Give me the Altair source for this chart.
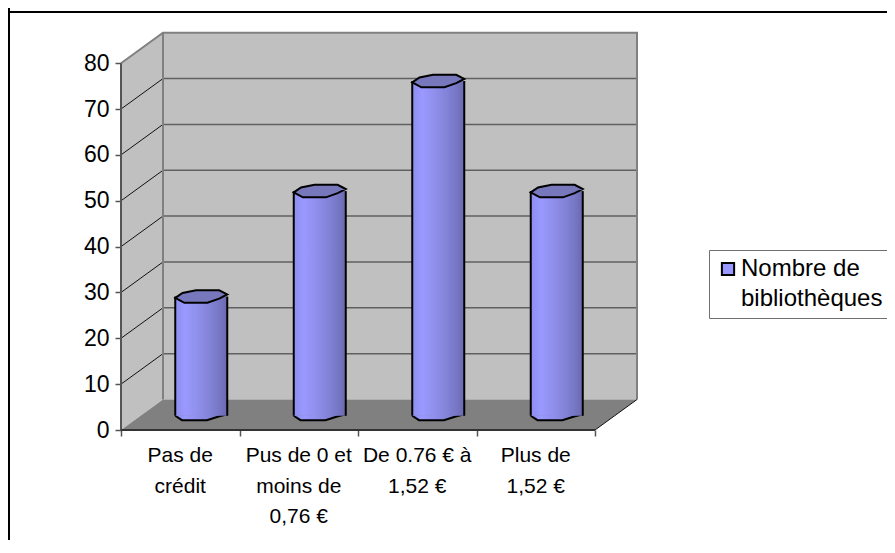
import altair as alt
import pandas as pd

categories = ["Pas de\ncrédit", "Pus de 0 et\nmoins de\n0,76 €", "De 0.76 € à\n1,52 €", "Plus de\n1,52 €"]
values = [26, 49, 73, 49]
y_ticks = [0, 10, 20, 30, 40, 50, 60, 70, 80]
x_ticks = [0, 1, 2, 3, 4]
series_name = "Nombre de\nbibliothèques"

# depth of the pseudo-3D box, in data units
DX = 0.3544
DY = 6.65
BAR_W = 0.4388
YMAX = 80
N = 4

FONT = "Liberation Sans"
XMIN, XMAX = -0.9536, 6.4641
YMIN, YTOP = -23.99, 92.04
xs = alt.Scale(domain=[XMIN, XMAX], nice=False, zero=False)
ys = alt.Scale(domain=[YMIN, YTOP], nice=False, zero=False)
x_axis = alt.Axis(values=x_ticks, labels=False, domain=False, grid=False, title=None, offset=-110,
                  tickSize=6, tickColor="#555555", tickWidth=1.5)
y_axis = alt.Axis(values=y_ticks, domain=False, grid=False, title=None, offset=-113,
                  tickSize=6, tickColor="#555555", tickWidth=1.5, labelFont=FONT,
                  labelFontSize=23, labelColor="black", labelPadding=6)


def X(f="x"):
    return alt.X(f"{f}:Q", scale=xs, axis=x_axis)


def Y(f="y"):
    return alt.Y(f"{f}:Q", scale=ys, axis=y_axis)


# frame (left + top only)
frame_left = alt.Chart(pd.DataFrame({"x": [-0.9452], "y": [YMIN], "y2": [YTOP]})).mark_rule(color="black", strokeWidth=2).encode(
    x=X(), y=Y(), y2="y2:Q")
frame_top = alt.Chart(pd.DataFrame({"x": [XMIN], "x2": [XMAX], "y": [91.17]})).mark_rule(color="black", strokeWidth=2).encode(
    x=X(), x2="x2:Q", y=Y())

# walls
side = pd.DataFrame({"x": [0, DX], "y": [0, DY], "y2": [YMAX, YMAX + DY]})
side_wall = alt.Chart(side).mark_area(color="#C0C0C0", opacity=1).encode(x=X(), y=Y(), y2="y2:Q")
back_wall = alt.Chart(pd.DataFrame({"x": [DX], "x2": [N + DX], "y": [DY], "y2": [YMAX + DY]})).mark_rect(color="#C0C0C0").encode(
    x=X(), x2="x2:Q", y=Y(), y2="y2:Q")
floor = pd.DataFrame({"y": [0, DY], "x": [0, DX], "x2": [N, N + DX]})
floor_area = alt.Chart(floor).mark_area(color="#808080", orient="horizontal", opacity=1).encode(y=Y(), x=X(), x2="x2:Q")

# grid
back_grid = alt.Chart(pd.DataFrame({"v": [v + DY for v in y_ticks[1:-1]], "x": DX, "x2": N + DX})).mark_rule(color="#606060", strokeWidth=1.5).encode(
    x=X(), x2="x2:Q", y=Y("v"))
rows = []
for v in y_ticks[1:-1]:
    rows += [{"id": v, "x": 0, "y": v}, {"id": v, "x": DX, "y": v + DY}]
side_grid = alt.Chart(pd.DataFrame(rows)).mark_line(color="#111111", strokeWidth=1).encode(x=X(), y=Y(), detail="id:N")

# gray edges of the walls
edge = pd.DataFrame([
    {"id": 1, "o": 0, "x": 0, "y": YMAX}, {"id": 1, "o": 1, "x": DX, "y": YMAX + DY},
    {"id": 1, "o": 2, "x": N + DX, "y": YMAX + DY}, {"id": 1, "o": 3, "x": N + DX, "y": DY},
    {"id": 2, "o": 0, "x": DX, "y": YMAX + DY}, {"id": 2, "o": 1, "x": DX, "y": DY},
])
edges = alt.Chart(edge).mark_line(color="#808080", strokeWidth=2).encode(x=X(), y=Y(), detail="id:N", order="o:Q")
diag = pd.DataFrame({"x": [N, N + DX], "y": [0, DY]})
floor_edge = alt.Chart(diag).mark_line(color="#111111", strokeWidth=1).encode(x=X(), y=Y())

# axis lines
axis_y = alt.Chart(pd.DataFrame({"x": [0], "y": [0], "y2": [YMAX]})).mark_rule(color="#555555", strokeWidth=2).encode(x=X(), y=Y(), y2="y2:Q")
axis_x = alt.Chart(pd.DataFrame({"x": [0], "x2": [N], "y": [0]})).mark_rule(color="#333333", strokeWidth=2).encode(x=X(), x2="x2:Q", y=Y())

# cylinders
bars = pd.DataFrame({
    "cat": categories,
    "val": values,
    "c": [i + 0.5 + DX / 2 for i in range(N)],
    "lab": [i + 0.5 for i in range(N)],
})
bars["l"] = bars.c - BAR_W / 2
bars["r"] = bars.c + BAR_W / 2
bars["base"] = DY / 2 - 0.22
bars["top"] = bars.val + bars.base
bars["zero"] = 0

grad = alt.Gradient(
    gradient="linear", x1=0, x2=1, y1=0, y2=0,
    stops=[
        alt.GradientStop(offset=0, color="#8E8EF0"),
        alt.GradientStop(offset=0.2, color="#9999FF"),
        alt.GradientStop(offset=0.5, color="#8C8CE6"),
        alt.GradientStop(offset=0.8, color="#7A7ACB"),
        alt.GradientStop(offset=1, color="#6A6AB0"),
    ])
TOP_SHAPE = "M-1 .05L-.72 -.14L-.2 -.24L.69 -.24L1 -.08L.69 .08L.24 .24L-.65 .24Z"
BOTTOM_SHAPE = "M-1 0L-.74 .17L.22 .17L.67 .03L1 -.06"
SIZE = 2704

cyl_bottom = alt.Chart(bars).mark_point(shape=BOTTOM_SHAPE, size=SIZE, fill=grad, stroke="black", strokeWidth=2, opacity=1).encode(
    x=X("c"), y=Y("base"))
cyl_body = alt.Chart(bars).mark_rect(fill=grad).encode(x=X("l"), x2="r:Q", y=Y("base"), y2="top:Q")
cyl_left = alt.Chart(bars).mark_rule(color="black", strokeWidth=2).encode(x=X("l"), y=Y("base"), y2="top:Q")
cyl_right = alt.Chart(bars).mark_rule(color="black", strokeWidth=2).encode(x=X("r"), y=Y("base"), y2="top:Q")
cyl_top = alt.Chart(bars).mark_point(shape=TOP_SHAPE, size=SIZE, fill="#7777BB", stroke="black", strokeWidth=2, opacity=1).encode(
    x=X("c"), y=Y("top"))

# category labels
cat_labels = alt.Chart(bars).mark_text(
    font=FONT, fontSize=21, color="black", lineBreak="\n", lineHeight=30.5, baseline="top", align="center", dy=15
).encode(x=X("lab"), y=Y("zero"), text="cat:N")

# legend
legend_src = alt.Chart(pd.DataFrame({"s": [series_name], "x": [0], "y": [0]})).mark_square(size=0, opacity=0).encode(
    x=X(), y=Y(),
    color=alt.Color("s:N", scale=alt.Scale(domain=[series_name], range=["#9999FF"]),
                    legend=alt.Legend(
                        title=None, orient="none", legendX=701, legendY=242, fillColor="white",
                        strokeColor="#707070", padding=7, symbolType="square", symbolSize=150,
                        symbolFillColor="#9999FF", symbolStrokeColor="black", symbolStrokeWidth=2, symbolOpacity=1,
                        labelFont=FONT, labelFontSize=24, labelColor="black", labelLimit=300, labelOffset=1,
                        labelExpr="split(datum.label, '\\n')")))

chart = alt.layer(
    frame_left, frame_top, legend_src,
    back_wall, side_wall, floor_area, back_grid, side_grid, edges, floor_edge,
    axis_y, axis_x,
    cyl_bottom, cyl_body, cyl_left, cyl_right, cyl_top, cat_labels,
).properties(
    width=879, height=532, padding=0, autosize=alt.AutoSizeParams(type="none"), background="white"
).configure(style={"guide-label": {"lineHeight": 30}}).configure_view(stroke=None)

chart.save("out.html", embed_options={"renderer": "svg", "actions": False})
